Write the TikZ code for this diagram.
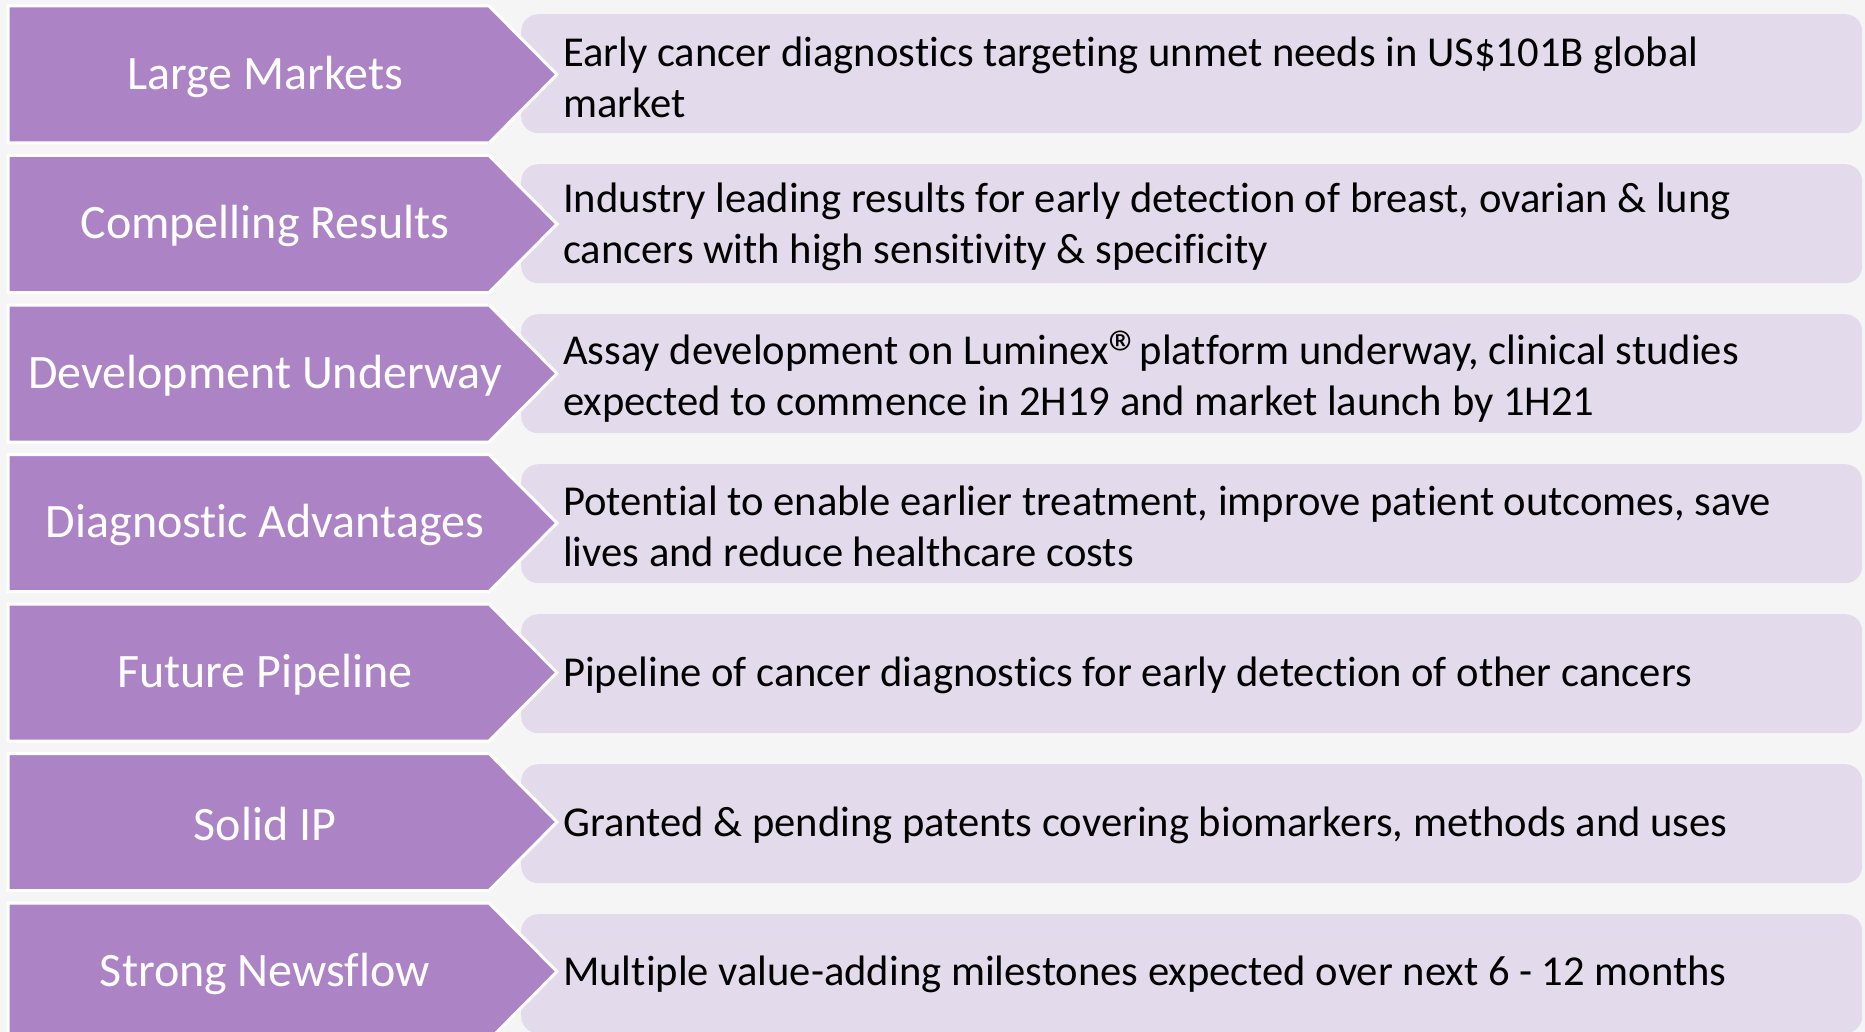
\documentclass[tikz,border=0pt]{standalone}
\usepackage{fontspec}
\setmainfont{Carlito}[Ligatures=NoCommon]
\definecolor{chevfill}{HTML}{AC84C5}
\definecolor{boxfill}{HTML}{E3DBEB}
\definecolor{bgfill}{HTML}{F5F5F5}
\newcommand{\bigreg}{\makebox[0.5em][l]{\raisebox{-0.28em}{\fontsize{66}{66}\selectfont ®}}}
\tikzset{
  chevron/.style={fill=chevfill, draw=white, line width=3pt, line join=miter},
  infobox/.style={fill=boxfill, draw=none, rounded corners=17pt},
  chevlabel/.style={text=white, font=\fontsize{48}{56}\selectfont, inner sep=0pt, anchor=center},
  infotext/.style={text=black, font=\fontsize{42.6}{51}\selectfont, inner sep=0pt, anchor=west, align=left},
}
\begin{document}
\begin{tikzpicture}[x=1pt,y=-1pt]
\useasboundingbox (0,0) rectangle (1865,1032);
\clip (0,0) rectangle (1865,1032);
\fill[bgfill] (0,0) rectangle (1865,1032);
\foreach \i/\lab/\txt in {
  0/{Large Markets}/{Early cancer diagnostics targeting unmet needs in US\$101B global\\market},
  1/{Compelling Results}/{Industry leading results for early detection of breast, ovarian \& lung\\cancers with high sensitivity \& specificity},
  2/{Development Underway}/{Assay development on Luminex\bigreg{} platform underway, clinical studies\\expected to commence in 2H19 and market launch by 1H21},
  3/{Diagnostic Advantages}/{Potential to enable earlier treatment, improve patient outcomes, save\\lives and reduce healthcare costs},
  4/{Future Pipeline}/{Pipeline of cancer diagnostics for early detection of other cancers},
  5/{Solid IP}/{Granted \& pending patents covering biomarkers, methods and uses},
  6/{Strong Newsflow}/{Multiple value-adding milestones expected over next 6 - 12 months}} {
  \pgfmathsetmacro{\t}{6+149.5*\i}
  \pgfmathsetmacro{\b}{\t+137}
  \pgfmathsetmacro{\m}{\t+68.5}
  \pgfmathsetmacro{\bt}{14+150*\i}
  \node[infobox, minimum width=1341pt, minimum height=119pt, anchor=north west] (box\i) at (521,\bt) {};
  \draw[chevron] (8,\t) -- (489,\t) -- (557,\m) -- (489,\b) -- (8,\b) -- cycle;
  \node[chevlabel] (lab\i) at (265,\m+2) {\lab};
  \node[infotext] (txt\i) at (563,\m+3) {\txt};
}
\end{tikzpicture}
\end{document}
